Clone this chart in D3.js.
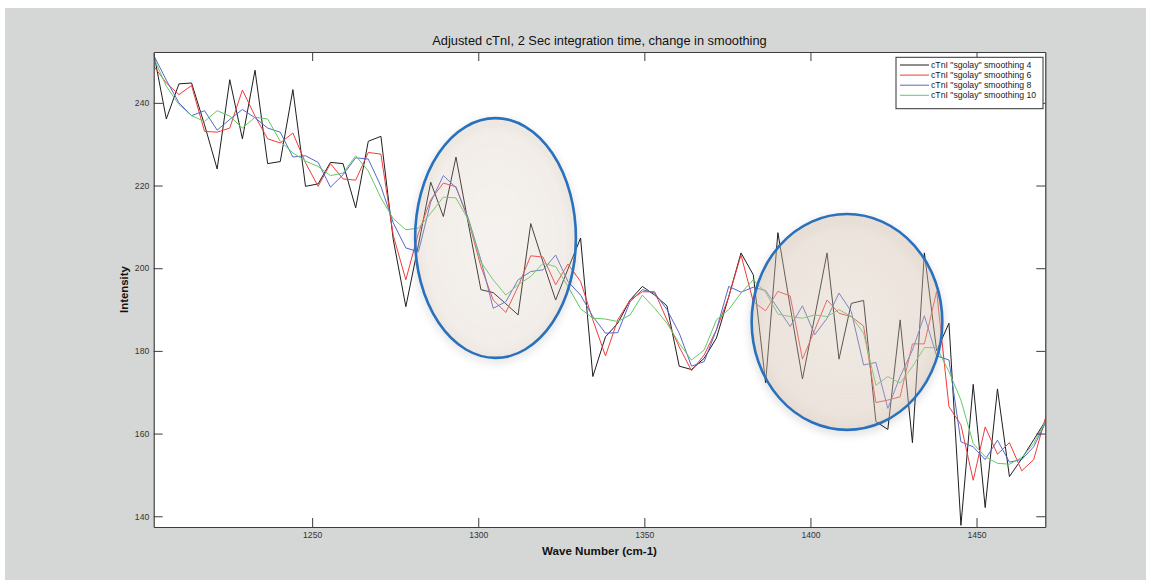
<!DOCTYPE html>
<html>
<head>
<meta charset="utf-8">
<script src="https://cdn.jsdelivr.net/npm/d3@7"></script>
<style>
  html, body { margin: 0; padding: 0; background: #ffffff; }
  svg { display: block; font-family: "Liberation Sans", Arial, sans-serif; }
</style>
</head>
<body>
<svg id="chart" width="1151" height="586"></svg>
<script>
// Raman shift (cm-1) of each sample
const waveNumber = [
  1202.3, 1206.1, 1209.9, 1213.7, 1217.6, 1221.4, 1225.2, 1229.0, 1232.8, 1236.6,
  1240.4, 1244.2, 1248.0, 1251.8, 1255.5, 1259.3, 1263.1, 1266.9, 1270.7, 1274.4,
  1278.2, 1282.0, 1285.7, 1289.5, 1293.3, 1297.0, 1300.8, 1304.5, 1308.3, 1312.0,
  1315.8, 1319.5, 1323.3, 1327.0, 1330.8, 1334.5, 1338.3, 1342.0, 1345.7, 1349.4,
  1353.1, 1356.8, 1360.5, 1364.2, 1368.0, 1371.7, 1375.4, 1379.1, 1382.8, 1386.5,
  1390.2, 1393.9, 1397.6, 1401.3, 1405.0, 1408.6, 1412.3, 1416.0, 1419.7, 1423.3,
  1427.0, 1430.7, 1434.3, 1438.0, 1441.7, 1445.3, 1449.0, 1452.6, 1456.3, 1459.9,
  1463.6, 1467.2, 1470.7
];

// Savitzky-Golay smoothed intensities, one array per window size
const smooth4 = [
  252.1, 236.1, 244.6, 244.8, 234.7, 224.0, 245.6, 231.3, 247.9, 225.3,
  225.8, 243.2, 219.8, 220.4, 225.6, 225.3, 214.6, 230.7, 231.9, 207.0,
  190.7, 205.7, 220.8, 212.5, 226.9, 210.8, 194.8, 194.1, 191.4, 188.7,
  210.8, 201.5, 192.3, 199.8, 207.3, 173.8, 183.4, 186.7, 192.3, 195.6,
  193.5, 190.9, 176.3, 175.5, 178.2, 183.1, 193.1, 203.7, 198.4, 172.3,
  208.6, 190.7, 173.2, 188.3, 203.7, 178.0, 191.5, 192.2, 162.9, 161.0,
  187.5, 157.8, 203.7, 180.0, 186.7, 137.8, 171.9, 142.1, 170.8, 149.6,
  153.9, 158.5, 163.0
];
const smooth6 = [
  248.9, 244.8, 242.0, 244.2, 233.1, 232.9, 233.9, 243.1, 236.8, 231.3,
  230.3, 232.7, 225.5, 219.8, 225.3, 221.6, 221.3, 228.0, 227.6, 208.0,
  197.2, 208.5, 216.6, 220.6, 219.7, 211.7, 200.4, 192.3, 189.3, 195.6,
  203.0, 202.7, 196.0, 201.0, 196.8, 187.5, 178.8, 187.5, 192.3, 194.3,
  194.3, 187.5, 181.0, 175.2, 179.0, 185.1, 193.1, 203.2, 191.9, 189.7,
  194.4, 193.3, 178.0, 185.1, 192.3, 189.1, 188.3, 186.0, 167.5, 168.1,
  168.9, 181.7, 181.7, 194.4, 166.5, 162.1, 148.7, 161.6, 155.0, 157.8,
  151.0, 153.7, 163.7
];
const smooth8 = [
  251.5, 245.5, 240.0, 236.9, 238.1, 233.4, 236.0, 238.4, 236.4, 233.9,
  232.9, 226.9, 227.2, 225.6, 219.6, 222.6, 226.7, 226.4, 219.8, 211.0,
  204.9, 204.0, 216.0, 222.4, 219.5, 212.1, 202.0, 190.3, 191.9, 197.2,
  199.2, 199.6, 203.2, 196.8, 193.5, 188.3, 184.3, 184.4, 191.9, 194.8,
  194.0, 190.0, 184.3, 176.3, 177.4, 185.1, 195.6, 194.2, 195.4, 194.6,
  190.3, 185.9, 190.9, 183.9, 187.9, 194.0, 189.5, 176.6, 177.2, 166.1,
  173.8, 180.2, 188.5, 178.8, 177.8, 158.0, 156.8, 153.7, 158.4, 153.1,
  153.7, 156.8, 162.5
];
const smooth10 = [
  250.9, 244.0, 239.6, 236.9, 235.5, 238.1, 236.8, 233.9, 236.5, 236.1,
  230.7, 227.9, 225.9, 224.6, 222.4, 223.0, 227.2, 223.5, 217.0, 212.0,
  209.3, 209.7, 213.3, 217.2, 217.0, 211.7, 201.5, 197.2, 193.5, 196.0,
  198.0, 201.2, 200.4, 195.6, 190.2, 187.9, 187.7, 187.1, 188.7, 193.5,
  190.3, 186.7, 181.8, 177.8, 180.2, 187.5, 190.0, 194.0, 197.2, 194.2,
  188.9, 188.3, 187.9, 188.7, 188.3, 190.0, 188.3, 184.3, 171.7, 173.8,
  172.2, 176.2, 180.8, 180.8, 175.0, 168.1, 157.6, 154.4, 152.8, 152.6,
  154.2, 157.6, 162.9
];

const seriesNames = [
  'cTnI "sgolay" smoothing 4',
  'cTnI "sgolay" smoothing 6',
  'cTnI "sgolay" smoothing 8',
  'cTnI "sgolay" smoothing 10'
];
const seriesValues = [smooth4, smooth6, smooth8, smooth10];
const seriesColors = ["#1e1e1e", "#f23a3a", "#5568c8", "#62c962"];

const xTicks = [1250, 1300, 1350, 1400, 1450];
const yTicks = [140, 160, 180, 200, 220, 240];
const xLimits = [1202.3, 1470.7];
const yLimits = [137.4, 252.3];

// Highlighted regions in data units: centre, half-width (cm-1), half-height (intensity)
const highlightRegions = [
  { cx: 1305.2, cy: 207.3, rx: 24.2, ry: 29.0, edge: 0.26, core: 0.17 },
  { cx: 1411.0, cy: 187.0, rx: 28.7, ry: 26.1, edge: 0.44, core: 0.28 }
];

const title = "Adjusted cTnI, 2 Sec integration time, change in smoothing";
const xLabel = "Wave Number (cm-1)";
const yLabel = "Intensity";

const plot = { left: 153.7, right: 1045.3, top: 52, bottom: 527 };

const svg = d3.select("#chart");
const defs = svg.append("defs");

// figure background
svg.append("rect").attr("x", 5).attr("y", 8).attr("width", 1141).attr("height", 572)
  .attr("fill", "#d5d7d6");

const x = d3.scaleLinear().domain(xLimits).range([plot.left, plot.right]);
const y = d3.scaleLinear().domain(yLimits).range([plot.bottom, plot.top]);

svg.append("rect")
  .attr("x", plot.left).attr("y", plot.top)
  .attr("width", plot.right - plot.left).attr("height", plot.bottom - plot.top)
  .attr("fill", "#ffffff");

defs.append("clipPath").attr("id", "plotClip").append("rect")
  .attr("x", plot.left).attr("y", plot.top)
  .attr("width", plot.right - plot.left).attr("height", plot.bottom - plot.top);

// spectra
const line = d3.line().x((d, i) => x(waveNumber[i])).y(d => y(d));
const linesG = svg.append("g").attr("clip-path", "url(#plotClip)");
seriesValues.forEach((vals, k) => {
  linesG.append("path")
    .attr("d", line(vals))
    .attr("fill", "none")
    .attr("stroke", seriesColors[k])
    .attr("stroke-width", 1)
    .attr("stroke-linejoin", "miter");
});

// highlight ellipses with soft shadow
const shadow = defs.append("filter").attr("id", "ellShadow")
  .attr("x", "-20%").attr("y", "-20%").attr("width", "140%").attr("height", "140%");
shadow.append("feDropShadow").attr("dx", 0).attr("dy", 3).attr("stdDeviation", 4)
  .attr("flood-color", "#000").attr("flood-opacity", 0.2);

highlightRegions.forEach((r, k) => {
  const grad = defs.append("radialGradient").attr("id", "ellFill" + k);
  grad.append("stop").attr("offset", "0%").attr("stop-color", "#dcc8b6").attr("stop-opacity", r.core);
  grad.append("stop").attr("offset", "85%").attr("stop-color", "#dcc8b6").attr("stop-opacity", r.core + (r.edge - r.core) * 0.6);
  grad.append("stop").attr("offset", "100%").attr("stop-color", "#d6c0ad").attr("stop-opacity", r.edge);
  const cx = x(r.cx), cy = y(r.cy);
  const rx = x(r.cx + r.rx) - cx, ry = cy - y(r.cy + r.ry);
  svg.append("ellipse")
    .attr("cx", cx).attr("cy", cy).attr("rx", rx).attr("ry", ry)
    .attr("fill", "url(#ellFill" + k + ")")
    .attr("stroke", "#2a71bd").attr("stroke-width", 2.6)
    .attr("filter", "url(#ellShadow)");
});

// axes: ticks on all four sides pointing inward
const axisColor = "#3c3c3c";
function styleAxis(g) {
  g.selectAll(".domain").attr("stroke", axisColor).attr("stroke-width", 1.2);
  g.selectAll(".tick line").attr("stroke", axisColor).attr("stroke-width", 1);
  g.selectAll(".tick text").attr("fill", "#333").attr("font-size", "8.6px")
    .attr("font-family", "Liberation Sans, Arial, sans-serif");
}
svg.append("g").attr("transform", `translate(0,${plot.bottom})`)
  .call(d3.axisBottom(x).tickValues(xTicks).tickSizeInner(-9).tickSizeOuter(0).tickPadding(5).tickFormat(d3.format("d")))
  .call(styleAxis);
svg.append("g").attr("transform", `translate(0,${plot.top})`)
  .call(d3.axisTop(x).tickValues(xTicks).tickSizeInner(-9).tickSizeOuter(0).tickFormat(""))
  .call(styleAxis);
svg.append("g").attr("transform", `translate(${plot.left},0)`)
  .call(d3.axisLeft(y).tickValues(yTicks).tickSizeInner(-9).tickSizeOuter(0).tickPadding(4.5).tickFormat(d3.format("d")))
  .call(styleAxis);
svg.append("g").attr("transform", `translate(${plot.right},0)`)
  .call(d3.axisRight(y).tickValues(yTicks).tickSizeInner(-9).tickSizeOuter(0).tickFormat(""))
  .call(styleAxis);

// title and axis labels
svg.append("text").attr("x", (plot.left + plot.right) / 2).attr("y", 45)
  .attr("text-anchor", "middle").attr("font-size", "12.8px").attr("fill", "#111")
  .text(title);
svg.append("text").attr("x", (plot.left + plot.right) / 2).attr("y", 555)
  .attr("text-anchor", "middle").attr("font-size", "11.6px").attr("font-weight", "bold").attr("fill", "#111")
  .text(xLabel);
svg.append("text").attr("transform", `translate(128,${(plot.top + plot.bottom) / 2}) rotate(-90)`)
  .attr("text-anchor", "middle").attr("font-size", "11.4px").attr("font-weight", "bold").attr("fill", "#111")
  .text(yLabel);

// legend
const lg = svg.append("g");
lg.append("rect").attr("x", 896).attr("y", 57.3).attr("width", 147).attr("height", 51.4)
  .attr("fill", "#fff").attr("stroke", "#333").attr("stroke-width", 1);
seriesNames.forEach((name, k) => {
  const ry = 65 + k * 10.1;
  lg.append("line").attr("x1", 900).attr("x2", 929).attr("y1", ry).attr("y2", ry)
    .attr("stroke", seriesColors[k]).attr("stroke-width", 1);
  lg.append("text").attr("x", 931).attr("y", ry).attr("dy", "0.35em")
    .attr("font-size", "8.7px").attr("fill", "#222").text(name);
});
</script>
</body>
</html>
